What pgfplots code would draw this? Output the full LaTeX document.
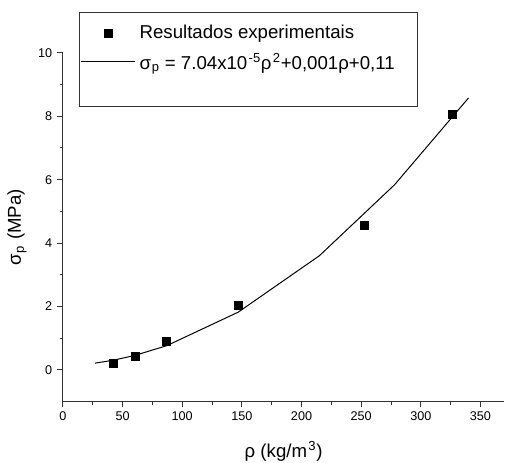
\documentclass[border=0pt]{standalone}
\usepackage{fontspec}
\setmainfont{Liberation Sans}
\usepackage{pgfplots}
\pgfplotsset{compat=1.18}

\newcommand{\lbl}{\fontsize{14}{16.8}\selectfont}
\newcommand{\tck}{\fontsize{9.5}{11.4}\selectfont}

% legend samples 41pt wide, as in the original
\pgfplotsset{
  markleg/.style={legend image code/.code={
    \path (0pt,0pt) (41pt,0pt);
    \draw[##1] plot coordinates {(20.5pt,0pt)};}},
  lineleg/.style={legend image code/.code={
    \draw[##1] (0pt,0pt) -- (41pt,0pt);}},
}

\begin{document}
\begin{tikzpicture}
\path[use as bounding box] (-47.25pt,-45.75pt) rectangle (332pt,301.5pt);
\begin{axis}[
  at={(0pt,0pt)}, anchor=south west,
  scale only axis,
  width=331.5pt, height=261.75pt,
  xmin=0, xmax=370, ymin=-1, ymax=10,
  axis x line=bottom, axis y line=left,
  axis line style={-, line width=0.75pt, draw=black!80},
  xtick={0,50,...,350}, ytick={0,2,...,10},
  minor x tick num=1, minor y tick num=1,
  tick align=outside,
  major tick length=4.5pt, minor tick length=2.5pt,
  every tick/.style={line width=0.75pt, draw=black!80},
  ticklabel style={font=\tck},
  /pgf/number format/assume math mode=true,
  xlabel={ρ (kg/m\kern1pt\textsuperscript{3})},
  ylabel={σ\kern0.5pt\textsubscript{p} (MPa)},
  label style={font=\lbl},
  xlabel style={at={(axis description cs:0.5,-0.1433)}, anchor=center},
  ylabel style={at={(axis description cs:-0.104,0.5)}, anchor=center},
  clip=false,
  legend cell align=left,
  legend style={
    at={(axis description cs:0.0362,1.1175)}, anchor=north west,
    draw=black!80, line width=0.75pt, font=\lbl,
    inner xsep=0.75pt, inner ysep=7.75pt, row sep=5pt, column sep=0.75pt,
  },
]
\addplot[only marks, mark=square*, mark size=3pt, black, markleg]
  coordinates {(42,0.2)(61,0.42)(87,0.89)(147,2.03)(253,4.57)(326,8.07)};
\addlegendentry{Resultados experimentais}
\addplot[black, line width=0.75pt, mark=none, lineleg]
  coordinates {(27,0.21)(42,0.3)(60,0.45)(87,0.76)(147,1.82)(215,3.6)(278,5.84)(340,8.58)};
\addlegendentry{\makebox[206pt][l]{σ\kern0.5pt\textsubscript{p} = 7.04x10\kern1pt\textsuperscript{-5}ρ\kern1pt\textsuperscript{2}+0,001ρ+0,11}}
\addlegendimage{empty legend}
\addlegendentry{\rule{0pt}{6.75pt}}
\end{axis}
\end{tikzpicture}
\end{document}
